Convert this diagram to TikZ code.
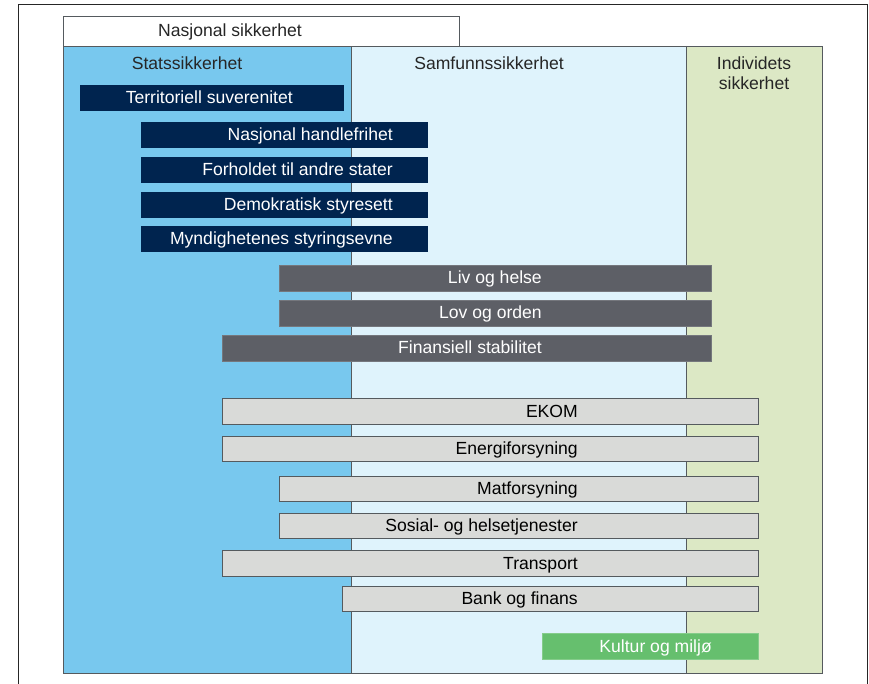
\documentclass[tikz,border=0pt]{standalone}
\usepackage{fontspec}
\setmainfont{Liberation Sans}
\definecolor{statsblue}{HTML}{78C8EE}
\definecolor{samfunnblue}{HTML}{DFF3FC}
\definecolor{individgreen}{HTML}{DCE8C5}
\definecolor{navy}{HTML}{00244F}
\definecolor{darkbar}{HTML}{5D5F66}
\definecolor{lightbar}{HTML}{D9DAD8}
\definecolor{kulturgreen}{HTML}{66BF6E}
\definecolor{framegray}{HTML}{555A5E}
\begin{document}
\begin{tikzpicture}[x=0.03cm,y=-0.03cm,
  navybar/.style={fill=navy,draw=navy,line width=0.4pt},
  darkbarbox/.style={fill=darkbar,draw=darkbar!85!white,line width=0.6pt},
  lightbarbox/.style={fill=lightbar,draw=framegray,line width=0.8pt},
  kulturbox/.style={fill=kulturgreen,draw=kulturgreen!80!white,line width=0.6pt},
  bartext/.style={anchor=base east,inner sep=0pt,font=\fontsize{15}{18}\selectfont},
  whitetext/.style={bartext,text=white},
  title/.style={anchor=base,inner sep=0pt,font=\fontsize{15}{17}\selectfont,text=black!85}]
  \useasboundingbox (0,0) rectangle (869,684);
  %Outer frame
  \draw[line width=0.8pt,black!85] (18,684) -- (18,4) -- (867,4) -- (867,684);

  %Columns
  \fill[statsblue] (63,46) rectangle (351,673);
  \fill[samfunnblue] (351,46) rectangle (686,673);
  \fill[individgreen] (686,46) rectangle (822,673);
  \draw[framegray,line width=0.8pt] (63,46) rectangle (822,673);
  \draw[framegray,line width=0.8pt] (351,46) -- (351,673);
  \draw[framegray,line width=0.8pt] (686,46) -- (686,673);
  \draw[framegray,line width=0.8pt,fill=white] (63,16) rectangle (459,46);
  \node[title] (nasjonal) at (230,37) {Nasjonal sikkerhet};
  \node[title] (stats) at (187,70) {Statssikkerhet};
  \node[title] (samfunn) at (489,70) {Samfunnssikkerhet};
  \node[title,anchor=north,align=center] (individ) at (754,57) {Individets\\sikkerhet};

  %Statssikkerhet
  \draw[navybar] (80,85) rectangle (343,110);
  \node[whitetext] (territoriell) at (293,103.5) {Territoriell suverenitet};
  \draw[navybar] (141,122) rectangle (427,147);
  \node[whitetext] (handlefrihet) at (393,140.5) {Nasjonal handlefrihet};
  \draw[navybar] (141,157) rectangle (427,182);
  \node[whitetext] (forholdet) at (393,175.5) {Forholdet til andre stater};
  \draw[navybar] (141,192) rectangle (427,217);
  \node[whitetext] (demokratisk) at (393,210.5) {Demokratisk styresett};
  \draw[navybar] (141,226) rectangle (427,251);
  \node[whitetext] (styringsevne) at (393,244.5) {Myndighetenes styringsevne};

  %Samfunnssikkerhet
  \draw[darkbarbox] (279,265) rectangle (711,291);
  \node[whitetext] (liv) at (542,284) {Liv og helse};
  \draw[darkbarbox] (279,300) rectangle (711,326);
  \node[whitetext] (lov) at (542,319) {Lov og orden};
  \draw[darkbarbox] (222,335) rectangle (711,361);
  \node[whitetext] (finansiell) at (542,354) {Finansiell stabilitet};

  %Kritiske samfunnsfunksjoner
  \draw[lightbarbox] (222,398) rectangle (758,424);
  \node[bartext] (ekom) at (578,417) {EKOM};
  \draw[lightbarbox] (222,436) rectangle (758,461);
  \node[bartext] (energi) at (578,454.5) {Energiforsyning};
  \draw[lightbarbox] (279,476) rectangle (758,501);
  \node[bartext] (mat) at (578,494.5) {Matforsyning};
  \draw[lightbarbox] (279,513) rectangle (758,538);
  \node[bartext] (sosial) at (578,531.5) {Sosial- og helsetjenester};
  \draw[lightbarbox] (222,550) rectangle (758,576);
  \node[bartext] (transport) at (578,569) {Transport};
  \draw[lightbarbox] (342,586) rectangle (758,611);
  \node[bartext] (bank) at (578,604.5) {Bank og finans};
  \draw[kulturbox] (542,633) rectangle (758,659);
  \node[whitetext] (kultur) at (712,652) {Kultur og miljø};
\end{tikzpicture}
\end{document}
